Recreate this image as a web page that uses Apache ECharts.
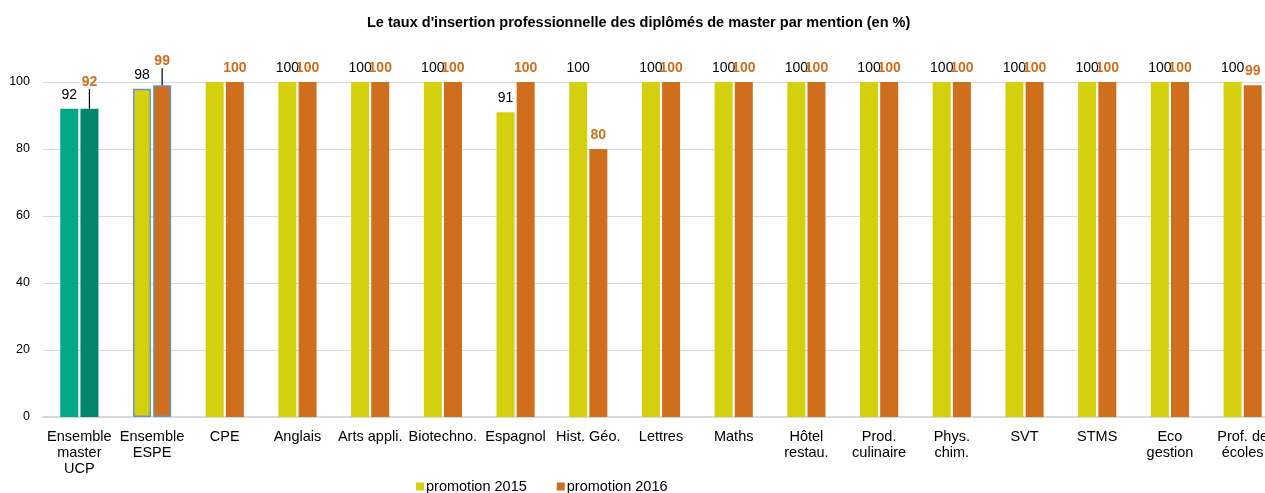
<!DOCTYPE html>
<html><head><meta charset="utf-8">
<script src="https://cdn.jsdelivr.net/npm/echarts@6/dist/echarts.min.js"></script>
<style>html,body{margin:0;padding:0;background:#fff;overflow:hidden}#c{width:1280px;height:493px}</style>
</head><body><div id="c"></div>
<script>
const categories = ["Ensemble\nmaster\nUCP","Ensemble\nESPE","CPE","Anglais","Arts appli.","Biotechno.","Espagnol","Hist. Géo.","Lettres","Maths","Hôtel\nrestau.","Prod.\nculinaire","Phys.\nchim.","SVT","STMS","Eco\ngestion","Prof. de\nécoles"];
const promo2015 = [92,98,100,100,100,100,91,100,100,100,100,100,100,100,100,100,100];
const promo2016 = [92,99,100,100,100,100,100,80,100,100,100,100,100,100,100,100,99];
const yTicks = [0,20,40,60,80,100];

const YELLOW = '#D4D00E', ORANGE = '#CF6E1C', BORDER = '#6A93CE';
const d2015 = promo2015.map((v,i)=>{
  const o = {value:v};
  if(i===0) o.itemStyle = {color:'#00A886'};
  if(i===1) o.itemStyle = {color:YELLOW, borderColor:BORDER, borderWidth:1.5};
  if(i===2) o.label = {show:false};
  return o;
});
const d2016 = promo2016.map((v,i)=>{
  const o = {value:v};
  if(i===0) o.itemStyle = {color:'#00866A'};
  if(i===1) o.itemStyle = {color:ORANGE, borderColor:BORDER, borderWidth:1.5};
  if(i<=1) o.labelLine = {show:true,lineStyle:{color:'#000',width:1.2}};
  return o;
});
const chart = echarts.init(document.getElementById('c'));
chart.setOption({
  animation:false,
  title:{text:"Le taux d'insertion professionnelle des diplômés de master par mention (en %)",left:362,top:10,
    textStyle:{fontFamily:'Liberation Sans',fontSize:14.5,fontWeight:'bold',color:'#000'}},
  legend:{left:411,bottom:-6,itemWidth:8,itemHeight:8,itemGap:30,icon:'rect',
    textStyle:{fontFamily:'Liberation Sans',fontSize:14.5,color:'#000',padding:[0,0,0,-3]},
    data:[{name:'promotion 2015',itemStyle:{color:YELLOW}},{name:'promotion 2016',itemStyle:{color:ORANGE}}]},
  grid:{left:43,top:82,bottom:76,width:1236,containLabel:false},
  xAxis:{type:'category',data:categories,
    axisLine:{lineStyle:{color:'#D9D9D9',width:2}},axisTick:{show:false},
    axisLabel:{interval:0,color:'#000',fontFamily:'Liberation Sans',fontSize:14.5,lineHeight:16,margin:12}},
  yAxis:{type:'value',min:0,max:100,interval:20,
    axisLine:{show:false},axisTick:{show:false},
    splitLine:{lineStyle:{color:'#D9D9D9',width:1}},
    axisLabel:{color:'#000',fontFamily:'Liberation Sans',fontSize:12.5,margin:13,
      formatter:v=>yTicks.includes(v)?String(v):''}},
  series:[
    {name:'promotion 2015',type:'bar',data:d2015,barWidth:18,barGap:'12%',itemStyle:{color:YELLOW},
      label:{show:true,position:'top',distance:7,color:'#000',fontFamily:'Liberation Sans',fontSize:14}},
    {name:'promotion 2016',type:'bar',data:d2016,barWidth:18,itemStyle:{color:ORANGE},
      label:{show:true,position:'top',distance:7,color:ORANGE,fontWeight:'bold',fontFamily:'Liberation Sans',fontSize:14},
      labelLayout:function(p){ if(p.dataIndex===0) return {dy:-13}; if(p.dataIndex===1) return {dy:-10}; return {}; }}
  ]
});
</script></body></html>
